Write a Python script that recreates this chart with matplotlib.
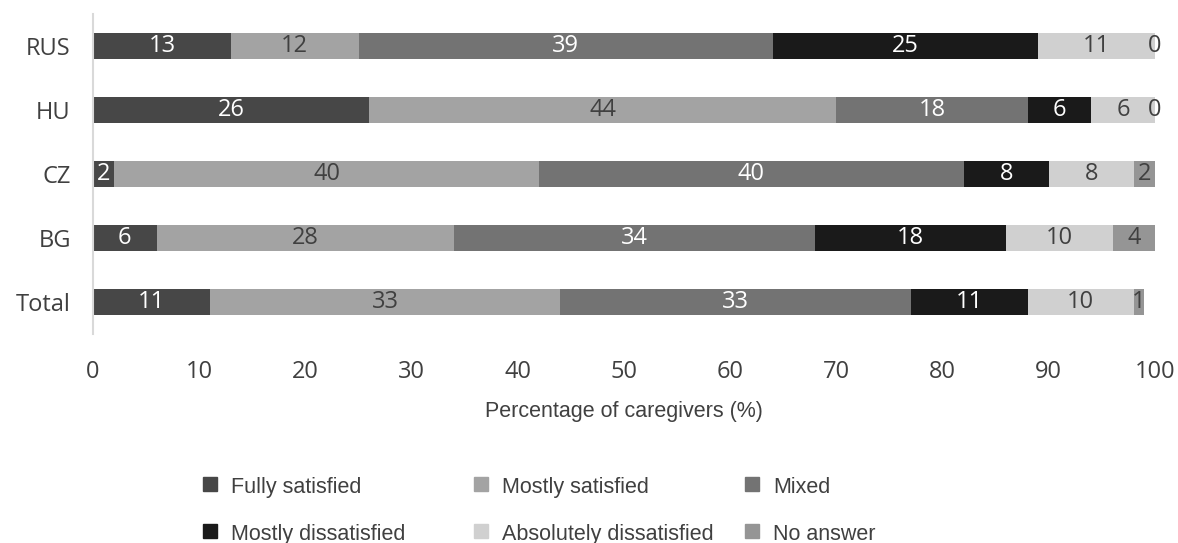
import numpy as np
import matplotlib
matplotlib.use("Agg")
import matplotlib.pyplot as plt
from matplotlib.patches import Rectangle

# Satisfaction of caregivers by country (%)
countries = ["Total", "BG", "CZ", "HU", "RUS"]
fully_satisfied = [11, 6, 2, 26, 13]
mostly_satisfied = [33, 28, 40, 44, 12]
mixed = [33, 34, 40, 18, 39]
mostly_dissatisfied = [11, 18, 8, 6, 25]
absolutely_dissatisfied = [10, 10, 8, 6, 11]
no_answer = [1, 4, 2, 0, 0]

series_names = ["Fully satisfied", "Mostly satisfied", "Mixed",
                "Mostly dissatisfied", "Absolutely dissatisfied", "No answer"]
series = [fully_satisfied, mostly_satisfied, mixed,
          mostly_dissatisfied, absolutely_dissatisfied, no_answer]
colors = ["#474747", "#a3a3a3", "#737373", "#1a1a1a", "#d0d0d0", "#959595"]
label_colors = ["white", "#404040", "white", "white", "#404040", "#404040"]

num_font = "Open Sans"
txt_font = "Liberation Sans"

fig = plt.figure(figsize=(11.78, 5.43), dpi=100)
ax = fig.add_axes([93 / 1178, 1 - 334 / 543, 1062 / 1178, 320 / 543])

y = np.arange(len(countries))
left = np.zeros(len(countries))
for name, vals, c, lc in zip(series_names, series, colors, label_colors):
    vals = np.array(vals, dtype=float)
    ax.barh(y, vals, left=left, height=0.4, color=c, label=name)
    for yi, l, v in zip(y, left, vals):
        ax.text(l + v / 2, yi, f"{int(v)}", ha="center", va="center",
                color=lc, fontsize=17, fontfamily=num_font)
    left += vals

ax.set_xlim(0, 100)
ax.set_ylim(-0.5, 4.5)
ax.set_xticks(np.arange(0, 101, 10))
ax.set_yticks(y)
ax.set_yticklabels(countries)
for s in ["top", "right", "bottom"]:
    ax.spines[s].set_visible(False)
ax.spines["left"].set_color("#d9d9d9")
ax.spines["left"].set_linewidth(1.5)
ax.tick_params(axis="both", length=0, labelsize=17, labelcolor="#404040")
ax.tick_params(axis="x", pad=19)
ax.tick_params(axis="y", pad=16)
for lab in ax.get_xticklabels() + ax.get_yticklabels():
    lab.set_fontfamily(num_font)
ax.set_xlabel("Percentage of caregivers (%)", fontsize=15.5, color="#404040",
              fontfamily=txt_font, labelpad=12)

# legend laid out in two rows of three
col_x = [210, 481, 752]
row_y = [484, 531]
for i, (name, c) in enumerate(zip(series_names, colors)):
    px = col_x[i % 3]
    py = row_y[i // 3]
    fig.add_artist(Rectangle(((px - 7) / 1178, 1 - (py + 7) / 543), 14 / 1178, 14 / 543,
                             transform=fig.transFigure, color=c))
    fig.text((px + 21) / 1178, 1 - (py + 1) / 543, name, ha="left", va="center_baseline",
             fontsize=15.5, color="#404040", fontfamily=txt_font)

fig.savefig("out.png", dpi=100)
